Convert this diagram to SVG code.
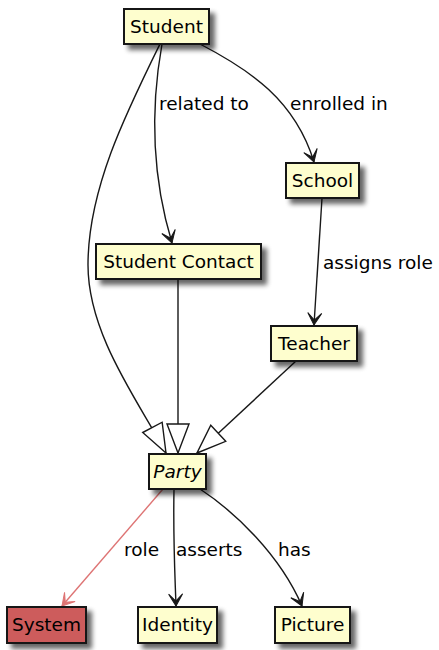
<svg xmlns="http://www.w3.org/2000/svg" width="439" height="650" viewBox="0 0 439 650">
<style>
  .box { fill: #FEFECE; stroke: #181818; stroke-width: 2; filter: url(#shadow); }
  .sys { fill: #CD5C5C; }
  .txt { font-family: "DejaVu Sans", sans-serif; font-size: 18.5px; fill: #000; text-anchor: middle; }
  .lbl { font-family: "DejaVu Sans", sans-serif; font-size: 18.5px; fill: #000; }
  .edge { fill: none; stroke: #181818; stroke-width: 1.4; }
  .red { stroke: #DE7474; }
</style>
<defs>
  <filter id="shadow" x="-20%" y="-20%" width="150%" height="160%">
    <feGaussianBlur in="SourceAlpha" stdDeviation="2.5"/>
    <feOffset dx="5" dy="5" result="b"/>
    <feComponentTransfer><feFuncA type="linear" slope="0.6"/></feComponentTransfer>
    <feMerge><feMergeNode/><feMergeNode in="SourceGraphic"/></feMerge>
  </filter>
  <marker id="arrow" markerUnits="userSpaceOnUse" viewBox="-14 -8 16 16" markerWidth="16" markerHeight="16" refX="0" refY="0" orient="auto">
    <path d="M0,0 L-12,-7 L-5,0 L-12,7 Z" fill="#181818" stroke="#181818" stroke-width="1"/>
  </marker>
  <marker id="arrowRed" markerUnits="userSpaceOnUse" viewBox="-14 -8 16 16" markerWidth="16" markerHeight="16" refX="0" refY="0" orient="auto">
    <path d="M0,0 L-12,-7 L-5,0 L-12,7 Z" fill="#DE7474" stroke="#DE7474" stroke-width="1"/>
  </marker>
  <marker id="tri" markerUnits="userSpaceOnUse" viewBox="-32 -13 34 26" markerWidth="34" markerHeight="26" refX="0" refY="0" orient="auto">
    <path d="M0,0 L-29,-11 L-29,11 Z" fill="#FFFFFF" stroke="#181818" stroke-width="1.4"/>
  </marker>
</defs>

<g id="connectors">
  <path class="edge" d="M160,44 C125,115 88,190 88,265 C88,335 139,402 166,453" marker-end="url(#tri)"/>
  <path class="edge" d="M162,44 C152,100 150,170 172,243" marker-end="url(#arrow)"/>
  <path class="edge" d="M200,44 C250,70 295,100 314,162" marker-end="url(#arrow)"/>
  <path class="edge" d="M322,198 L314,325" marker-end="url(#arrow)"/>
  <path class="edge" d="M178,279 L178,453" marker-end="url(#tri)"/>
  <path class="edge" d="M296,361 L197,453" marker-end="url(#tri)"/>
  <path class="edge red" d="M163,489 L62,606" marker-end="url(#arrowRed)"/>
  <path class="edge" d="M174,489 C173,540 175,575 176,606" marker-end="url(#arrow)"/>
  <path class="edge" d="M200,489 C235,512 280,555 302,606" marker-end="url(#arrow)"/>
  <text class="lbl" x="159" y="110">related to</text>
  <text class="lbl" x="290" y="110">enrolled in</text>
  <text class="lbl" x="323" y="269">assigns role</text>
  <text class="lbl" x="124" y="556">role</text>
  <text class="lbl" x="176" y="556">asserts</text>
  <text class="lbl" x="278" y="556">has</text>
</g>

<g id="student">
  <rect class="box" x="124" y="9" width="85" height="35"/>
  <text class="txt" x="166.5" y="33">Student</text>
</g>
<g id="school">
  <rect class="box" x="286" y="163" width="73" height="35"/>
  <text class="txt" x="322.5" y="187">School</text>
</g>
<g id="student-contact">
  <rect class="box" x="96" y="244" width="165" height="35"/>
  <text class="txt" x="178.5" y="268">Student Contact</text>
</g>
<g id="teacher">
  <rect class="box" x="271" y="326" width="86" height="35"/>
  <text class="txt" x="314" y="350">Teacher</text>
</g>
<g id="party">
  <rect class="box" x="149" y="454" width="57" height="35"/>
  <text class="txt" x="177.5" y="478" font-style="italic">Party</text>
</g>
<g id="system">
  <rect class="box sys" x="7" y="607" width="79" height="36"/>
  <text class="txt" x="46.5" y="631">System</text>
</g>
<g id="identity">
  <rect class="box" x="138" y="607" width="79" height="36"/>
  <text class="txt" x="177.5" y="631">Identity</text>
</g>
<g id="picture">
  <rect class="box" x="275" y="607" width="75" height="36"/>
  <text class="txt" x="312.5" y="631">Picture</text>
</g>
</svg>
